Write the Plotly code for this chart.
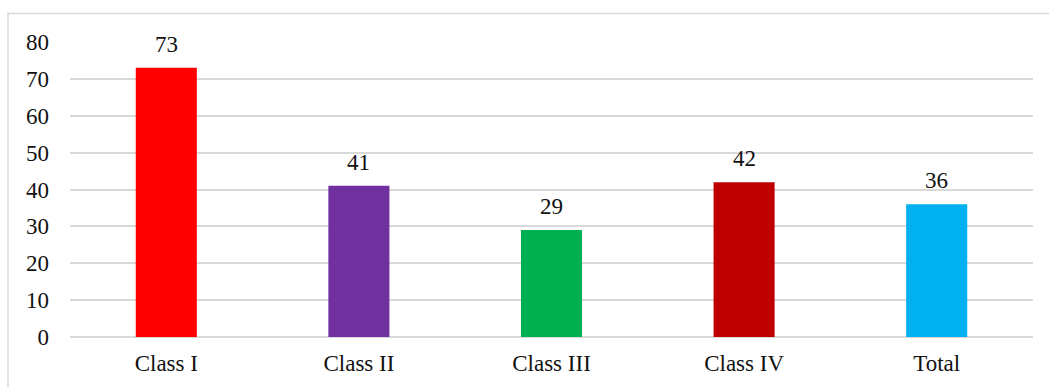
import plotly.graph_objects as go

categories = ["Class I", "Class II", "Class III", "Class IV", "Total"]
values = [73, 41, 29, 42, 36]
colors = ["#FF0000", "#7030A0", "#00B050", "#C00000", "#00B0F0"]
y_ticks = [0, 10, 20, 30, 40, 50, 60, 70, 80]

W, H = 1049, 387
ml, mr, mt, mb = 70, 16, 42, 50
pw, ph = W - ml - mr, H - mt - mb

font = dict(family="Liberation Serif, Times New Roman, serif", size=23, color="#111111")

fig = go.Figure(
    go.Bar(
        x=categories,
        y=values,
        marker=dict(color=colors, line=dict(width=0)),
        width=0.317,
        hoverinfo="skip",
    )
)

# value labels above each bar
for c, v in zip(categories, values):
    fig.add_annotation(
        x=c, y=v, text=str(v), showarrow=False,
        yanchor="bottom", yshift=9, font=font,
    )

# outer chart border (left and top edges visible in frame)
fig.add_shape(
    type="rect", xref="paper", yref="paper",
    x0=(8 - ml) / pw, x1=(W + 20 - ml) / pw,
    y0=-(mb + 20) / ph, y1=(ph + mt - 13.5) / ph,
    line=dict(color="#d9d9d9", width=1.5),
    fillcolor="rgba(0,0,0,0)", layer="below",
)

fig.update_layout(
    width=W, height=H,
    margin=dict(l=ml, r=mr, t=mt, b=mb, pad=0),
    paper_bgcolor="white", plot_bgcolor="white",
    font=font,
    showlegend=False,
    bargap=0.683,
    xaxis=dict(
        showgrid=False, showline=False, zeroline=False,
        ticks="", ticklabelstandoff=10, tickfont=font,
        fixedrange=True,
    ),
    yaxis=dict(
        range=[0, 80], tickvals=y_ticks,
        showgrid=True, gridcolor="#d9d9d9", gridwidth=1.5,
        zeroline=True, zerolinecolor="#d9d9d9", zerolinewidth=1.5,
        showline=False, ticks="", ticklabelstandoff=20, tickfont=font,
        fixedrange=True,
    ),
)

fig.write_html("out.html")
